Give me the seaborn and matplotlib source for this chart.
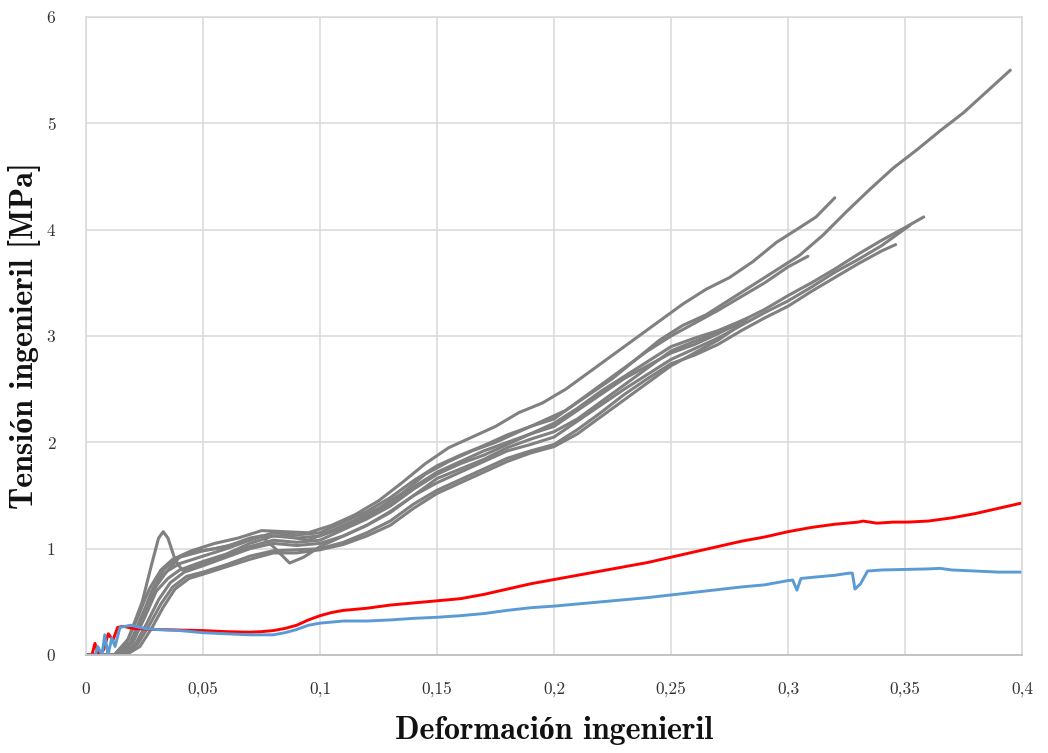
import numpy as np
import pandas as pd
import matplotlib
matplotlib.use("Agg")
import matplotlib.pyplot as plt
import seaborn as sns

# ---- tensile test curves: engineering strain vs engineering stress [MPa] ----
# grey: individual specimens
strain_a = [0.0, 0.013, 0.018, 0.023, 0.028, 0.033, 0.038, 0.045, 0.055, 0.065, 0.075, 0.085, 0.095,
            0.105, 0.115, 0.125, 0.135, 0.145, 0.155, 0.165, 0.175, 0.185, 0.195, 0.205, 0.215,
            0.225, 0.235, 0.245, 0.255, 0.265, 0.275, 0.285, 0.295, 0.305, 0.315, 0.325, 0.335,
            0.345, 0.355, 0.365, 0.375, 0.385, 0.395]
stress_a = [0.0, 0.0, 0.08, 0.3, 0.6, 0.8, 0.9, 0.97, 1.0, 1.05, 1.12, 1.12, 1.08,
            1.17, 1.27, 1.38, 1.52, 1.7, 1.82, 1.92, 2.0, 2.1, 2.2, 2.3, 2.45,
            2.6, 2.78, 2.96, 3.1, 3.2, 3.34, 3.48, 3.62, 3.76, 3.95, 4.17, 4.38,
            4.58, 4.75, 4.93, 5.1, 5.3, 5.5]

strain_b = [0.0, 0.012, 0.017, 0.022, 0.027, 0.032, 0.037, 0.045, 0.055, 0.065, 0.075, 0.085, 0.095,
            0.105, 0.115, 0.125, 0.135, 0.145, 0.155, 0.165, 0.175, 0.185, 0.195, 0.205, 0.215,
            0.225, 0.235, 0.245, 0.255, 0.265, 0.275, 0.285, 0.295, 0.305, 0.312, 0.32]
stress_b = [0.0, 0.0, 0.1, 0.35, 0.62, 0.8, 0.9, 0.98, 1.05, 1.1, 1.17, 1.16, 1.15,
            1.22, 1.32, 1.45, 1.62, 1.8, 1.95, 2.05, 2.15, 2.28, 2.37, 2.5, 2.66,
            2.82, 2.98, 3.14, 3.3, 3.44, 3.55, 3.7, 3.88, 4.02, 4.12, 4.3]

strain_c = [0.0, 0.014, 0.02, 0.025, 0.03, 0.035, 0.04, 0.05, 0.06, 0.07, 0.08, 0.09, 0.1, 0.11,
            0.12, 0.13, 0.14, 0.15, 0.16, 0.17, 0.18, 0.19, 0.2, 0.21, 0.22, 0.23, 0.24, 0.25,
            0.26, 0.27, 0.28, 0.29, 0.3, 0.31, 0.32, 0.33, 0.34, 0.35, 0.358]
stress_c = [0.0, 0.0, 0.12, 0.35, 0.6, 0.72, 0.8, 0.88, 0.95, 1.05, 1.12, 1.1, 1.12, 1.2,
            1.3, 1.42, 1.58, 1.72, 1.82, 1.92, 2.0, 2.08, 2.15, 2.3, 2.45, 2.6, 2.72, 2.84,
            2.92, 3.02, 3.14, 3.25, 3.38, 3.5, 3.63, 3.77, 3.9, 4.02, 4.12]

strain_d = [0.0, 0.015, 0.021, 0.026, 0.031, 0.036, 0.042, 0.05, 0.06, 0.07, 0.08, 0.09, 0.1, 0.11,
            0.12, 0.13, 0.14, 0.15, 0.16, 0.17, 0.18, 0.19, 0.2, 0.21, 0.22, 0.23, 0.24, 0.25,
            0.26, 0.27, 0.28, 0.29, 0.3, 0.31, 0.32, 0.33, 0.34, 0.352]
stress_d = [0.0, 0.0, 0.1, 0.3, 0.52, 0.68, 0.78, 0.84, 0.92, 1.0, 1.05, 1.03, 1.05, 1.12,
            1.22, 1.35, 1.5, 1.62, 1.72, 1.82, 1.92, 1.98, 2.05, 2.2, 2.35, 2.5, 2.64, 2.78,
            2.88, 2.98, 3.1, 3.22, 3.33, 3.46, 3.6, 3.72, 3.85, 4.04]

strain_e = [0.0, 0.016, 0.022, 0.027, 0.032, 0.037, 0.043, 0.05, 0.06, 0.07, 0.08, 0.09, 0.1, 0.11,
            0.12, 0.13, 0.14, 0.15, 0.16, 0.17, 0.18, 0.19, 0.2, 0.21, 0.22, 0.23, 0.24, 0.25,
            0.26, 0.27, 0.28, 0.29, 0.3, 0.31, 0.32, 0.33, 0.34, 0.346]
stress_e = [0.0, 0.0, 0.1, 0.28, 0.48, 0.64, 0.74, 0.78, 0.85, 0.93, 0.98, 0.99, 1.0, 1.06,
            1.15, 1.26, 1.42, 1.55, 1.65, 1.75, 1.85, 1.92, 1.98, 2.12, 2.28, 2.45, 2.6, 2.74,
            2.82, 2.92, 3.05, 3.17, 3.28, 3.42, 3.55, 3.68, 3.8, 3.86]

strain_f = [0.0, 0.013, 0.019, 0.024, 0.029, 0.034, 0.04, 0.05, 0.06, 0.07, 0.08, 0.09, 0.1, 0.11,
            0.12, 0.13, 0.14, 0.15, 0.16, 0.17, 0.18, 0.19, 0.2, 0.21, 0.22, 0.23, 0.24, 0.25,
            0.26, 0.27, 0.28, 0.29, 0.3, 0.3085]
stress_f = [0.0, 0.0, 0.12, 0.38, 0.62, 0.78, 0.86, 0.93, 1.0, 1.08, 1.15, 1.13, 1.15, 1.25,
            1.35, 1.48, 1.64, 1.78, 1.88, 1.97, 2.07, 2.15, 2.22, 2.38, 2.54, 2.7, 2.86, 3.0,
            3.12, 3.24, 3.37, 3.5, 3.65, 3.75]

strain_g = [0.0, 0.012, 0.018, 0.024, 0.028, 0.031, 0.033, 0.035, 0.038, 0.041, 0.045, 0.05, 0.06,
            0.07, 0.08, 0.09, 0.1, 0.11, 0.12, 0.13, 0.14, 0.15, 0.16, 0.17, 0.18, 0.19, 0.2,
            0.21, 0.22, 0.23, 0.24, 0.25, 0.26, 0.27, 0.283]
stress_g = [0.0, 0.0, 0.15, 0.5, 0.85, 1.1, 1.16, 1.1, 0.9, 0.8, 0.82, 0.86, 0.93,
            1.02, 1.08, 1.06, 1.08, 1.18, 1.28, 1.4, 1.56, 1.7, 1.8, 1.88, 1.98, 2.08, 2.18,
            2.32, 2.48, 2.62, 2.76, 2.9, 2.98, 3.05, 3.17]

strain_h = [0.0, 0.014, 0.02, 0.025, 0.03, 0.035, 0.04, 0.05, 0.06, 0.07, 0.075, 0.08, 0.087,
            0.093, 0.1, 0.11, 0.12, 0.13, 0.14, 0.15, 0.16, 0.17, 0.18, 0.19, 0.2, 0.21, 0.22,
            0.23, 0.24, 0.25, 0.26, 0.27, 0.28]
stress_h = [0.0, 0.0, 0.12, 0.4, 0.65, 0.8, 0.92, 0.98, 1.02, 1.1, 1.12, 1.02, 0.865,
            0.92, 1.02, 1.12, 1.22, 1.34, 1.5, 1.66, 1.75, 1.84, 1.95, 2.03, 2.1, 2.22, 2.38,
            2.54, 2.7, 2.86, 2.95, 3.03, 3.12]

strain_i = [0.0, 0.017, 0.023, 0.028, 0.033, 0.038, 0.044, 0.05, 0.06, 0.07, 0.08, 0.09, 0.1,
            0.11, 0.12, 0.13, 0.14, 0.15, 0.16, 0.17, 0.18, 0.19, 0.2, 0.21, 0.22, 0.23, 0.24,
            0.25, 0.26, 0.27, 0.282]
stress_i = [0.0, 0.0, 0.08, 0.25, 0.45, 0.62, 0.72, 0.76, 0.83, 0.9, 0.96, 0.96, 0.99,
            1.04, 1.12, 1.22, 1.38, 1.52, 1.62, 1.72, 1.82, 1.9, 1.96, 2.08, 2.24, 2.4, 2.56,
            2.72, 2.84, 2.96, 3.14]

# red series
strain_red = [0.0, 0.0025, 0.0038, 0.0055, 0.0075, 0.0095, 0.0115, 0.0135, 0.016, 0.02, 0.03,
              0.04, 0.05, 0.06, 0.07, 0.075, 0.08, 0.085, 0.09, 0.095, 0.1, 0.105, 0.11, 0.12,
              0.13, 0.14, 0.15, 0.16, 0.17, 0.18, 0.19, 0.2, 0.21, 0.22, 0.23, 0.24, 0.25,
              0.26, 0.27, 0.28, 0.29, 0.3, 0.31, 0.32, 0.33, 0.332, 0.338, 0.345, 0.351, 0.36,
              0.37, 0.38, 0.39, 0.4]
stress_red = [0.0, 0.0, 0.11, 0.0, 0.05, 0.2, 0.14, 0.26, 0.27, 0.25, 0.24,
              0.235, 0.23, 0.22, 0.215, 0.22, 0.23, 0.25, 0.28, 0.33, 0.37, 0.4, 0.42, 0.44,
              0.47, 0.49, 0.51, 0.53, 0.57, 0.62, 0.67, 0.71, 0.75, 0.79, 0.83, 0.87, 0.92,
              0.97, 1.02, 1.07, 1.11, 1.16, 1.2, 1.23, 1.25, 1.26, 1.24, 1.25, 1.25, 1.26,
              1.29, 1.33, 1.38, 1.43]

# blue series
strain_blue = [0.0, 0.004, 0.005, 0.0068, 0.008, 0.0094, 0.011, 0.0124, 0.0145, 0.019, 0.025,
               0.03, 0.04, 0.05, 0.06, 0.07, 0.08, 0.085, 0.09, 0.095, 0.1, 0.11, 0.12, 0.13,
               0.14, 0.15, 0.16, 0.17, 0.18, 0.19, 0.2, 0.21, 0.22, 0.23, 0.24, 0.25, 0.26,
               0.27, 0.28, 0.29, 0.3, 0.302, 0.3038, 0.3055, 0.31, 0.32, 0.326, 0.3275, 0.3286,
               0.331, 0.334, 0.34, 0.35, 0.36, 0.365, 0.37, 0.38, 0.39, 0.4]
stress_blue = [0.0, 0.0, 0.08, 0.0, 0.19, 0.0, 0.16, 0.08, 0.26, 0.28, 0.25,
               0.24, 0.23, 0.21, 0.2, 0.19, 0.19, 0.21, 0.24, 0.28, 0.3, 0.32, 0.32, 0.33,
               0.345, 0.355, 0.37, 0.39, 0.42, 0.445, 0.46, 0.48, 0.5, 0.52, 0.54, 0.565, 0.59,
               0.615, 0.64, 0.66, 0.7, 0.705, 0.61, 0.72, 0.73, 0.75, 0.77, 0.77, 0.62,
               0.67, 0.79, 0.8, 0.805, 0.81, 0.815, 0.8, 0.79, 0.78, 0.78]

x_ticks = [0, 0.05, 0.1, 0.15, 0.2, 0.25, 0.3, 0.35, 0.4]
x_tick_labels = ["0", "0,05", "0,1", "0,15", "0,2", "0,25", "0,3", "0,35", "0,4"]
y_ticks = [0, 1, 2, 3, 4, 5, 6]
y_tick_labels = ["0", "1", "2", "3", "4", "5", "6"]

grey_curves = [(strain_a, stress_a), (strain_b, stress_b), (strain_c, stress_c),
               (strain_d, stress_d), (strain_e, stress_e), (strain_f, stress_f),
               (strain_g, stress_g), (strain_h, stress_h), (strain_i, stress_i)]

sns.set_theme(style="white")
plt.rcParams["font.family"] = ["cmr10", "Liberation Serif"]
plt.rcParams["axes.formatter.use_mathtext"] = True

fig = plt.figure(figsize=(10.48, 7.53), dpi=100)
ax = fig.add_axes([0.0821, 0.1301, 0.8931, 0.8473])

grid_col = "#d9d9d9"
GREY = "#808080"
RED = "#ff0000"
BLUE = "#5b9bd5"

for sx, sy in grey_curves:
    df = pd.DataFrame({"strain": sx, "stress": sy})
    sns.lineplot(data=df, x="strain", y="stress", sort=False, estimator=None,
                 color=GREY, lw=2.2, ax=ax, solid_joinstyle="round", solid_capstyle="round")

df_red = pd.DataFrame({"strain": strain_red, "stress": stress_red})
sns.lineplot(data=df_red, x="strain", y="stress", sort=False, estimator=None,
             color=RED, lw=2.1, ax=ax, solid_joinstyle="round")
df_blue = pd.DataFrame({"strain": strain_blue, "stress": stress_blue})
sns.lineplot(data=df_blue, x="strain", y="stress", sort=False, estimator=None,
             color=BLUE, lw=2.1, ax=ax, solid_joinstyle="round")

ax.set_xlim(0, 0.4)
ax.set_ylim(0, 6)
ax.set_xticks(x_ticks)
ax.set_xticklabels(x_tick_labels)
ax.set_yticks(y_ticks)
ax.set_yticklabels(y_tick_labels)
ax.grid(True, color=grid_col, lw=1.1)
ax.set_axisbelow(True)
for side in ["left", "right", "top"]:
    ax.spines[side].set_color(grid_col)
    ax.spines[side].set_linewidth(1.1)
ax.spines["bottom"].set_color("#bfbfbf")
ax.spines["bottom"].set_linewidth(1.3)
ax.tick_params(axis="both", length=0, labelsize=12.5, colors="#333333")
ax.tick_params(axis="x", pad=19)
ax.tick_params(axis="y", pad=22)

label_font = ["cmb10", "Liberation Serif"]
ax.set_xlabel("Deformación ingenieril", fontsize=23, family=label_font, fontweight="bold",
              labelpad=14, color="#111111")
ax.set_ylabel("Tensión ingenieril [MPa]", fontsize=23, family=label_font, fontweight="bold",
              labelpad=4, color="#111111")

fig.savefig("out.png", dpi=100)
